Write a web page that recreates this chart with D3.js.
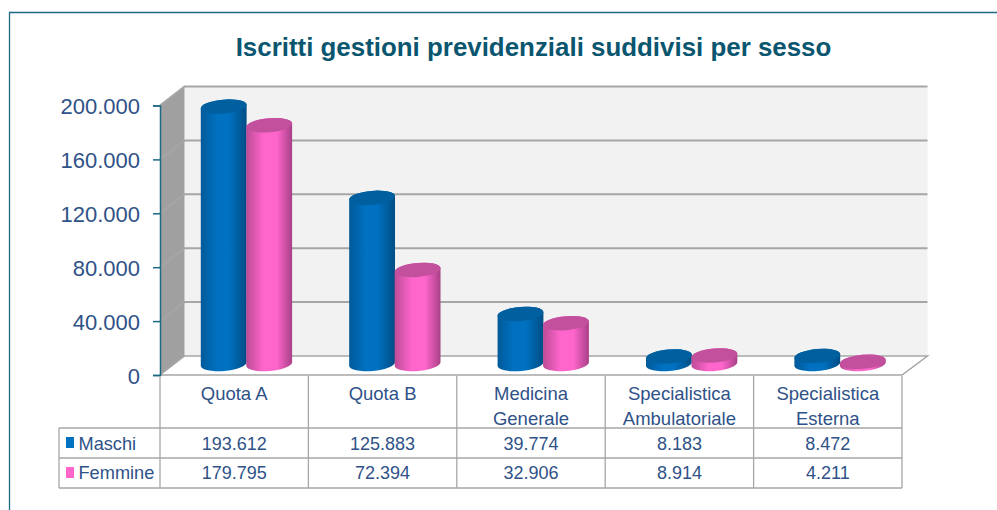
<!DOCTYPE html>
<html>
<head>
<meta charset="utf-8">
<script src="https://cdn.jsdelivr.net/npm/d3@7"></script>
<style>
  html, body { margin: 0; padding: 0; background: #fff; }
  svg { display: block; }
  text { font-family: "Liberation Sans", Arial, sans-serif; }
</style>
</head>
<body>
<div class="graphic"></div>
<script>
const chartTitle = "Iscritti gestioni previdenziali suddivisi per sesso";
const categories = ["Quota A", "Quota B", "Medicina\nGenerale", "Specialistica\nAmbulatoriale", "Specialistica\nEsterna"];
const seriesNames = ["Maschi", "Femmine"];
const maschi = [193612, 125883, 39774, 8183, 8472];
const femmine = [179795, 72394, 32906, 8914, 4211];
const yTicks = [0, 40000, 80000, 120000, 160000, 200000];

const seriesValues = [maschi, femmine];
const seriesColors = ["#0070c0", "#ff66cc"];
const topColors = ["#005f9f", "#c2509c"];

const width = 997, height = 510;
const textColor = "#2f5288";
const gridColor = "#a6a6a6";
const frameColor = "#1d6a84";

// layout of the fake 3d box
const plotLeft = 160, plotRight = 902, plotBottom = 375, plotTop = 105.5;
const depthX = 24.5, depthY = -19;
const tableTop = 376, tableLeft = 59;
const rowLines = [428, 458, 488];

const fmt = d3.formatLocale({ decimal: ",", thousands: ".", grouping: [3], currency: ["", ""] }).format(",d");

const svg = d3.select(".graphic").append("svg")
  .attr("width", width)
  .attr("height", height);

const defs = svg.append("defs");

const setGradient = (id, stops) => {
  const g = defs.append("linearGradient").attr("id", id)
    .attr("x1", "0%").attr("x2", "100%").attr("y1", "50%").attr("y2", "50%");
  stops.forEach(s => g.append("stop").attr("offset", s[0]).attr("stop-color", s[1]));
};
setGradient("bar0", [["0%", "#005a99"], ["35%", "#0070c0"], ["62%", "#0070c0"], ["100%", "#004d84"]]);
setGradient("bar1", [["0%", "#bd4b96"], ["38%", "#ff66cc"], ["66%", "#ff66cc"], ["100%", "#a94088"]]);

// frame
svg.append("path")
  .attr("d", `M9.5,${height} V12.5 H${width}`)
  .attr("fill", "none")
  .attr("stroke", frameColor)
  .attr("stroke-width", 1.3);

// title
svg.append("text")
  .attr("x", 533.5)
  .attr("y", 55.5)
  .attr("text-anchor", "middle")
  .attr("font-size", 25.9)
  .attr("font-weight", "bold")
  .attr("fill", "#0b566f")
  .text(chartTitle);

const x = d3.scaleBand().domain(categories).range([plotLeft, plotRight]);
const y = d3.scaleLinear().domain([0, 200000]).range([plotBottom, plotTop]);
const xSeries = d3.scaleBand().domain(seriesNames).range([-45.5, 45.5]);

// walls
const poly = pts => pts.map(p => p.join(",")).join(" ");
svg.append("polygon")
  .attr("points", poly([[plotLeft + depthX, y(0) + depthY], [plotRight + depthX + 1, y(0) + depthY], [plotRight + depthX + 1, y(200000) + depthY], [plotLeft + depthX, y(200000) + depthY]]))
  .attr("fill", "#f2f2f2");
svg.append("polygon")
  .attr("points", poly([[plotLeft, y(0)], [plotLeft + depthX, y(0) + depthY], [plotLeft + depthX, y(200000) + depthY], [plotLeft, y(200000)]]))
  .attr("fill", "#a0a0a0");
svg.append("polygon")
  .attr("points", poly([[plotLeft, y(0)], [plotLeft + depthX, y(0) + depthY], [plotRight + depthX + 1, y(0) + depthY], [plotRight, y(0)]]))
  .attr("fill", "#fff")
  .attr("stroke", gridColor)
  .attr("stroke-width", 1.5);

// gridlines, on the back wall and on the side wall
svg.append("g").selectAll("path").data(yTicks.slice(1)).join("path")
  .attr("d", d => `M${plotLeft},${y(d)} L${plotLeft + depthX},${y(d) + depthY} H${plotRight + depthX + 1}`)
  .attr("fill", "none")
  .attr("stroke", gridColor)
  .attr("stroke-width", 2);

// y axis
const yAxis = svg.append("g")
  .attr("transform", `translate(${plotLeft},0)`)
  .call(d3.axisLeft(y).tickValues(yTicks).tickFormat(fmt).tickSize(7).tickPadding(13));
yAxis.selectAll("path, line").attr("stroke", frameColor).attr("stroke-width", 1.5);
yAxis.selectAll("text").attr("font-size", 22).attr("fill", textColor)
  .attr("font-family", "'Liberation Sans', Arial, sans-serif").attr("dy", "0.38em");

// cylinders
const rx = 23, ry = 7, tilt = -5;
const baseY = 364;
const topOffset = -7.5;
const dxTilt = rx * Math.cos(tilt * Math.PI / 180);
const dyTilt = rx * Math.sin(tilt * Math.PI / 180);

const bodyPath = (cx, top) =>
  `M${cx - dxTilt},${top - dyTilt} L${cx - dxTilt},${baseY - dyTilt}` +
  ` A${rx},${ry} ${tilt} 0 0 ${cx + dxTilt},${baseY + dyTilt}` +
  ` L${cx + dxTilt},${top + dyTilt}` +
  ` A${rx},${ry} ${tilt} 0 0 ${cx - dxTilt},${top - dyTilt} Z`;

categories.forEach((c, i) => {
  const g = svg.append("g");
  seriesNames.forEach((s, k) => {
    const cx = x(c) + x.bandwidth() / 2 + depthX / 2 + xSeries(s) + xSeries.bandwidth() / 2;
    const top = y(seriesValues[k][i]) + topOffset;
    g.append("path").attr("d", bodyPath(cx, top)).attr("fill", `url(#bar${k})`);
    g.append("ellipse")
      .attr("rx", rx).attr("ry", ry)
      .attr("transform", `translate(${cx},${top}) rotate(${tilt})`)
      .attr("fill", topColors[k]);
  });
});

// data table
const table = svg.append("g");
const columnLines = categories.map(c => x(c)).concat([plotRight]);

table.selectAll("line.col").data(columnLines).join("line")
  .attr("class", "col")
  .attr("x1", d => d).attr("x2", d => d)
  .attr("y1", tableTop).attr("y2", rowLines[2]);
table.selectAll("line.row").data(rowLines).join("line")
  .attr("class", "row")
  .attr("x1", tableLeft).attr("x2", plotRight)
  .attr("y1", d => d).attr("y2", d => d);
table.append("line")
  .attr("x1", tableLeft).attr("x2", tableLeft)
  .attr("y1", rowLines[0]).attr("y2", rowLines[2]);
table.selectAll("line").attr("stroke", gridColor).attr("stroke-width", 1.3);

const addText = (txt, px, py, anchor, size) => table.append("text")
  .attr("x", px).attr("y", py)
  .attr("text-anchor", anchor)
  .attr("font-size", size)
  .attr("fill", textColor)
  .text(txt);

categories.forEach(c => {
  c.split("\n").forEach((line, j) => {
    addText(line, x(c) + x.bandwidth() / 2, 400 + j * 25, "middle", 18.5);
  });
});

seriesNames.forEach((s, k) => {
  const base = rowLines[k] + 21.5 - k;
  table.append("rect")
    .attr("x", 66).attr("y", rowLines[k] + 9)
    .attr("width", 8).attr("height", 11)
    .attr("fill", seriesColors[k]);
  addText(s, 78.5, base, "start", 18.2);
  seriesValues[k].forEach((v, i) => {
    addText(fmt(v), x(categories[i]) + x.bandwidth() / 2, base, "middle", 18);
  });
});
</script>
</body>
</html>
